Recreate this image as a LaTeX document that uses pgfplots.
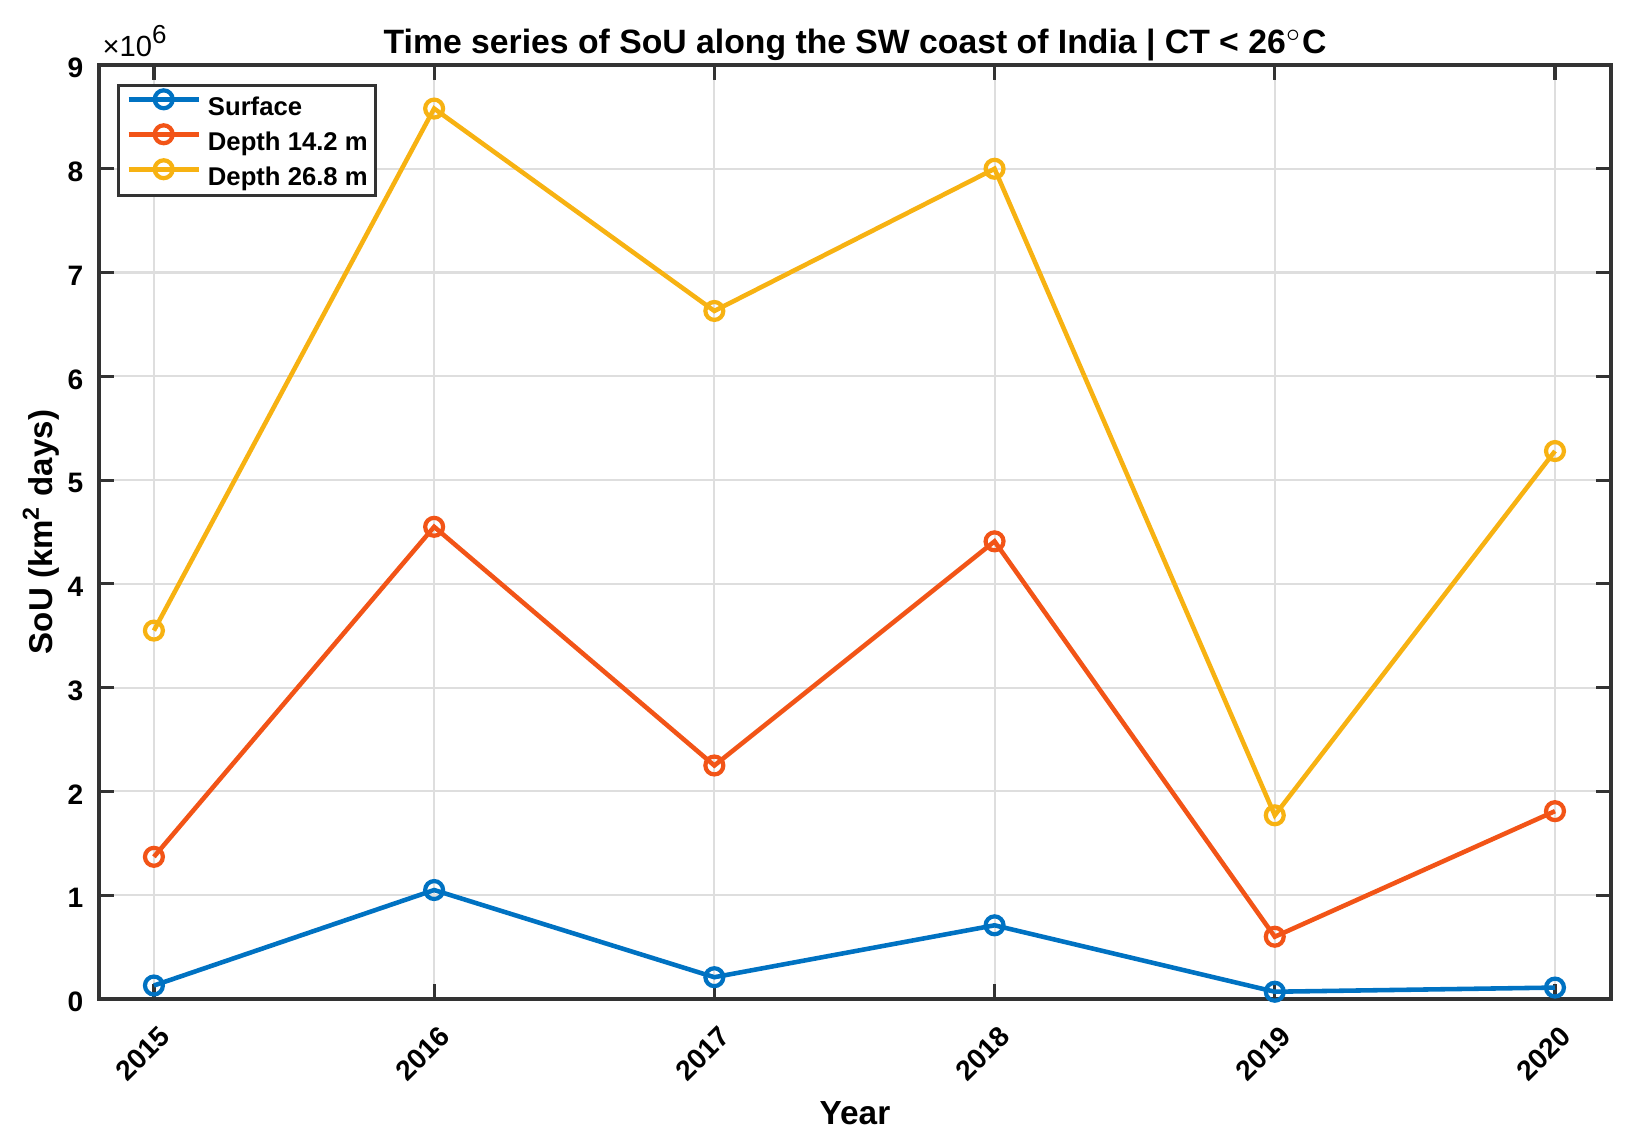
\documentclass[border=0pt]{standalone}
\usepackage{pgfplots}
\pgfplotsset{compat=1.18}
\usepackage{fontspec}
\setmainfont{Liberation Sans}
\definecolor{mblue}{rgb}{0,0.447,0.76}
\definecolor{mred}{rgb}{0.95,0.33,0.09}
\definecolor{myellow}{rgb}{0.97,0.70,0.07}
\definecolor{axgray}{rgb}{0.2,0.2,0.2}
\begin{document}
\begin{tikzpicture}
\begin{axis}[
  name=ax,
  scale only axis,
  width=15.12cm, height=9.34cm,
  xmin=2014.804, xmax=2020.2,
  ymin=0, ymax=9,
  xtick={2015,2016,2017,2018,2019,2020},
  ytick={0,1,2,3,4,5,6,7,8,9},
  xticklabel style={xshift=0.11cm, yshift=-0.32cm, rotate=45, anchor=east, inner sep=0pt, font=\bfseries\fontsize{8pt}{9pt}\selectfont},
  yticklabel style={xshift=-0.15cm, yshift=-0.03cm, anchor=east, inner sep=0pt, font=\bfseries\fontsize{8pt}{9pt}\selectfont},
  /pgf/number format/assume math mode=true,
  /pgf/number format/1000 sep={},
  grid=major,
  major grid style={black!13, line width=0.6pt},
  axis line style={axgray, line width=0.9pt},
  tick style={axgray, line width=0.9pt},
  tick align=inside,
  major tick length=0.15cm,
  every axis title shift=0pt,
  title={\bfseries Time series of SoU along the SW coast of India | CT < 26$^{\circ}$C},
  title style={at={(axis description cs:0.5,1)}, anchor=base, yshift=0.11cm, inner sep=0pt, font=\fontsize{9.6pt}{11pt}\selectfont},
  xlabel={\bfseries Year},
  ylabel={\bfseries SoU (km\textsuperscript{2} days)},
  xlabel style={at={(axis description cs:0.5,0)}, anchor=base, yshift=-1.25cm, inner sep=0pt, font=\fontsize{9.5pt}{11pt}\selectfont},
  ylabel style={at={(axis description cs:-0.0258,0.5)}, anchor=south, rotate=0, inner sep=0pt, font=\fontsize{9.4pt}{11pt}\selectfont},
  legend style={at={(axis description cs:0.0119,0.9797)}, anchor=north west, draw=axgray, line width=0.8pt,
    font=\bfseries\fontsize{7.3pt}{8pt}\selectfont, inner xsep=0.08cm, inner ysep=0.05cm,
    nodes={inner sep=0pt, text height=2.0mm, text depth=0.5mm}, row sep=0.45mm, column sep=0.07cm},
  legend cell align=left,
  legend image code/.code={\draw[mark repeat=2,mark phase=2,#1] plot coordinates {(0cm,0.09cm) (0.35cm,0.09cm) (0.7cm,0.09cm)};},
  every axis plot/.append style={line width=1.3pt, mark=o, mark size=2.55pt, mark options={line width=1.2pt}},
]
\addplot[mblue] coordinates {(2015,0.13) (2016,1.05) (2017,0.21) (2018,0.71) (2019,0.07) (2020,0.11)};
\addlegendentry{Surface}
\addplot[mred] coordinates {(2015,1.37) (2016,4.55) (2017,2.25) (2018,4.41) (2019,0.60) (2020,1.81)};
\addlegendentry{Depth 14.2 m}
\addplot[myellow] coordinates {(2015,3.55) (2016,8.58) (2017,6.63) (2018,8.00) (2019,1.77) (2020,5.28)};
\addlegendentry{Depth 26.8 m}
\end{axis}
\node[anchor=base west, font=\fontsize{8.3pt}{9pt}\selectfont, inner sep=0pt] at ([xshift=0.03cm,yshift=0.08cm]ax.north west) {×10\raisebox{0.9ex}{\fontsize{7.4pt}{8pt}\selectfont 6}};
\pgfresetboundingbox
\path (ax.south west) ++(-0.99cm,-1.42cm) rectangle ++(16.29cm,11.41cm);
\end{tikzpicture}
\end{document}
